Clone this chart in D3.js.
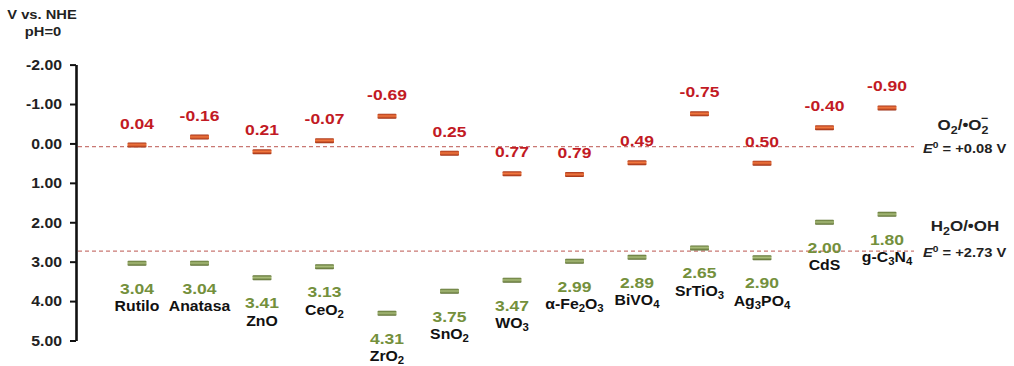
<!DOCTYPE html>
<html>
<head>
<meta charset="utf-8">
<script src="https://cdn.jsdelivr.net/npm/d3@7"></script>
<style>
  body { margin: 0; background: #fff; }
  svg { display: block; font-family: "Liberation Sans", Arial, sans-serif; }
</style>
</head>
<body>
<svg id="chart" width="1014" height="366"></svg>
<script>
// Semiconductors ("_n" marks a subscript digit)
const materials = ["Rutilo", "Anatasa", "ZnO", "CeO_2", "ZrO_2", "SnO_2", "WO_3",
                   "α-Fe_2O_3", "BiVO_4", "SrTiO_3", "Ag_3PO_4", "CdS", "g-C_3N_4"];
// Conduction band edge (V vs. NHE, pH 0)
const conductionBand = [0.04, -0.16, 0.21, -0.07, -0.69, 0.25, 0.77, 0.79, 0.49, -0.75, 0.50, -0.40, -0.90];
// Valence band edge (V vs. NHE, pH 0)
const valenceBand = [3.04, 3.04, 3.41, 3.13, 4.31, 3.75, 3.47, 2.99, 2.89, 2.65, 2.90, 2.00, 1.80];
// Axis ticks
const yTicks = [-2, -1, 0, 1, 2, 3, 4, 5];
// Redox reference potentials
const redoxPotentials = [0.08, 2.73];

const SX = 1.13; // horizontal stretch applied to all lettering
const RED = "#c21a24", GREEN = "#74903c";

const svg = d3.select("#chart");
const x = d3.scalePoint().domain(materials).range([137, 887]);
const y = d3.scaleLinear().domain([-2, 5]).range([64.6, 340.5]);
const AXIS_X = 76, LINE_END = 914;

// gradients for the band-edge bars
const defs = svg.append("defs");
function grad(id, stops) {
  const g = defs.append("linearGradient").attr("id", id)
    .attr("x1", 0).attr("y1", 0).attr("x2", 0).attr("y2", 1);
  stops.forEach(([o, c]) => g.append("stop").attr("offset", o).attr("stop-color", c));
}
grad("cbGrad", [[0, "#a8361a"], [0.45, "#f2773f"], [1, "#9a2c12"]]);
grad("vbGrad", [[0, "#5c7031"], [0.45, "#a9bd7a"], [1, "#56682d"]]);

// text helper: places text at (px,py) with horizontal stretch
function stretched(sel, px, py) {
  return sel.attr("transform", `translate(${px},${py}) scale(${SX},1)`);
}
function rich(textSel, str, size) {
  const parts = str.split(/_(\d)/);
  let shifted = false;
  parts.forEach((p, i) => {
    if (i % 2 === 1) {
      textSel.append("tspan").attr("font-size", size * 0.72).attr("dy", size * 0.2).text(p);
      shifted = true;
    } else if (p) {
      textSel.append("tspan").attr("dy", shifted ? -size * 0.2 : 0).text(p);
      shifted = false;
    }
  });
}

// y axis
const axis = svg.append("g").attr("transform", `translate(${AXIS_X},0)`)
  .call(d3.axisLeft(y).tickValues(yTicks).tickSize(6).tickSizeOuter(0)
    .tickFormat(d => d.toFixed(2)));
axis.select(".domain").attr("stroke", "#111").attr("stroke-width", 2.6);
axis.selectAll(".tick line").attr("stroke", "#111").attr("stroke-width", 2);
axis.selectAll(".tick text")
  .attr("x", 0).attr("dy", "0.35em")
  .attr("transform", `translate(-14,0) scale(${SX},1)`)
  .attr("font-size", 14).attr("font-weight", "bold").attr("fill", "#222")
  .attr("font-family", "Liberation Sans, Arial, sans-serif");

// axis title
stretched(svg.append("text"), 42, 19).attr("text-anchor", "middle")
  .attr("font-size", 13).attr("font-weight", "bold").attr("fill", "#222").text("V vs. NHE");
stretched(svg.append("text"), 43, 36).attr("text-anchor", "middle")
  .attr("font-size", 13).attr("font-weight", "bold").attr("fill", "#222").text("pH=0");

// redox reference lines
svg.selectAll("line.redox").data(redoxPotentials).join("line").attr("class", "redox")
  .attr("x1", AXIS_X + 2).attr("x2", LINE_END)
  .attr("y1", d => y(d)).attr("y2", d => y(d))
  .attr("stroke", "#c0605a").attr("stroke-opacity", 0.85)
  .attr("stroke-width", 1.2).attr("stroke-dasharray", "4,3");

// E0 labels
redoxPotentials.forEach(v => {
  const t = stretched(svg.append("text"), 923, y(v) + 6)
    .attr("font-size", 13).attr("font-weight", "bold").attr("fill", "#222");
  t.append("tspan").attr("font-style", "italic").text("E");
  t.append("tspan").attr("font-size", 9).attr("dy", -5).text("0");
  t.append("tspan").attr("dy", 5).text(` = +${v.toFixed(2)} V`);
});

// couple names
{
  const t = stretched(svg.append("text"), 963, y(redoxPotentials[0]) - 17)
    .attr("text-anchor", "middle").attr("font-size", 15).attr("font-weight", "bold").attr("fill", "#222");
  t.append("tspan").text("O");
  t.append("tspan").attr("font-size", 11).attr("dy", 4).text("2");
  t.append("tspan").attr("dy", -4).text("/•O");
  t.append("tspan").attr("font-size", 11).attr("dy", 4).text("2");
  t.append("tspan").attr("font-size", 11).attr("dx", -6.5).attr("dy", -12).text("−");
}
{
  const t = stretched(svg.append("text"), 965, y(redoxPotentials[1]) - 20)
    .attr("text-anchor", "middle").attr("font-size", 15).attr("font-weight", "bold").attr("fill", "#222");
  t.append("tspan").text("H");
  t.append("tspan").attr("font-size", 11).attr("dy", 4).text("2");
  t.append("tspan").attr("dy", -4).text("O/•OH");
}

// band edges
const BW = 19, BH = 5;
const rows = materials.map((m, i) => ({ m, cb: conductionBand[i], vb: valenceBand[i] }));

svg.selectAll("rect.cb").data(rows).join("rect").attr("class", "cb")
  .attr("x", d => x(d.m) - BW / 2).attr("y", d => y(d.cb) - BH / 2)
  .attr("width", BW).attr("height", BH).attr("rx", 1)
  .attr("fill", "url(#cbGrad)");
svg.selectAll("rect.vb").data(rows).join("rect").attr("class", "vb")
  .attr("x", d => x(d.m) - BW / 2).attr("y", d => y(d.vb) - BH / 2)
  .attr("width", BW).attr("height", BH).attr("rx", 1)
  .attr("fill", "url(#vbGrad)");

// value labels
rows.forEach(d => {
  stretched(svg.append("text"), x(d.m), y(d.cb) - 16.5)
    .attr("text-anchor", "middle").attr("font-size", 15.5).attr("font-weight", "bold")
    .attr("fill", RED).text(d.cb.toFixed(2));
  stretched(svg.append("text"), x(d.m), y(d.vb) + 30.5)
    .attr("text-anchor", "middle").attr("font-size", 15.5).attr("font-weight", "bold")
    .attr("fill", GREEN).text(d.vb.toFixed(2));
  const n = stretched(svg.append("text"), x(d.m), y(d.vb) + 48)
    .attr("text-anchor", "middle").attr("font-size", 14).attr("font-weight", "bold")
    .attr("fill", "#111");
  rich(n, d.m, 14);
});
</script>
</body>
</html>
